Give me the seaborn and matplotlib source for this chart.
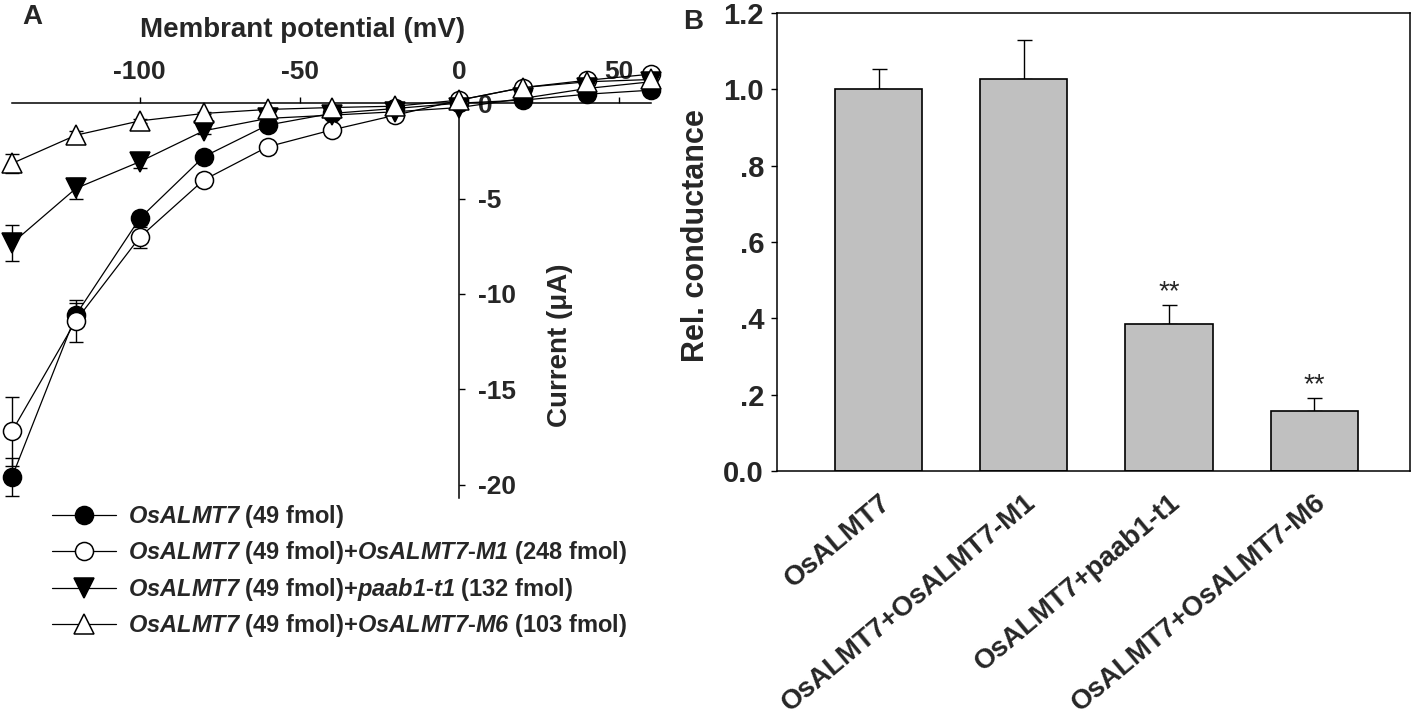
import numpy as np
import pandas as pd
import matplotlib
matplotlib.use("Agg")
import matplotlib.pyplot as plt
from matplotlib.lines import Line2D
import seaborn as sns

# ---- panel A: I-V curves ----
voltage = [-140, -120, -100, -80, -60, -40, -20, 0, 20, 40, 60]

cur_wt = [-19.6, -11.1, -6.04, -2.81, -1.15, -0.54, -0.28, 0.0, 0.16, 0.47, 0.68]
err_wt = [1.0, 0.6, 0.35, 0.25, 0.15, 0.1, 0.05, 0.05, 0.05, 0.05, 0.05]

cur_m1 = [-17.2, -11.4, -7.03, -4.03, -2.29, -1.41, -0.63, 0.16, 0.82, 1.2, 1.52]
err_m1 = [1.8, 1.1, 0.55, 0.3, 0.2, 0.15, 0.1, 0.05, 0.05, 0.05, 0.05]

cur_paab = [-7.35, -4.47, -3.07, -1.45, -0.8, -0.63, -0.45, -0.23, 0.25, 0.77, 1.12]
err_paab = [0.95, 0.55, 0.35, 0.15, 0.1, 0.1, 0.05, 0.05, 0.05, 0.05, 0.05]

cur_m6 = [-3.16, -1.68, -0.93, -0.54, -0.33, -0.23, -0.16, 0.16, 0.82, 1.12, 1.24]
err_m6 = [0.5, 0.2, 0.1, 0.05, 0.05, 0.05, 0.05, 0.05, 0.05, 0.05, 0.05]

legend_labels = [
    r"$\mathit{OsALMT7}$ (49 fmol)",
    r"$\mathit{OsALMT7}$ (49 fmol)+$\mathit{OsALMT7}$-$\mathit{M1}$ (248 fmol)",
    r"$\mathit{OsALMT7}$ (49 fmol)+$\mathit{paab1}$-$\mathit{t1}$ (132 fmol)",
    r"$\mathit{OsALMT7}$ (49 fmol)+$\mathit{OsALMT7}$-$\mathit{M6}$ (103 fmol)",
]

# ---- panel B: relative conductance ----
groups = ["OsALMT7", "OsALMT7+OsALMT7-M1", "OsALMT7+paab1-t1", "OsALMT7+OsALMT7-M6"]
rel_cond = [1.0, 1.028, 0.385, 0.157]
rel_err = [0.054, 0.102, 0.05, 0.035]
signif = ["", "", "**", "**"]
b_ticks = [0.0, 0.2, 0.4, 0.6, 0.8, 1.0, 1.2]
b_ticklabels = ["0.0", ".2", ".4", ".6", ".8", "1.0", "1.2"]

sns.set_style("ticks")
plt.rcParams["font.family"] = ["Liberation Sans", "DejaVu Sans"]
plt.rcParams["font.weight"] = "bold"
plt.rcParams["axes.unicode_minus"] = False
plt.rcParams["mathtext.fontset"] = "custom"
plt.rcParams["mathtext.it"] = "Liberation Sans:bold:italic"
plt.rcParams["mathtext.rm"] = "Liberation Sans:bold:italic"
plt.rcParams["mathtext.bf"] = "Liberation Sans:bold:italic"

W, H = 1417, 714
fig = plt.figure(figsize=(W / 100, H / 100), dpi=100)

# ================= Panel A =================
axA = fig.add_axes([12 / W, 1 - 498 / H, 639 / W, 433 / H])

series = [
    (cur_wt, err_wt, "o", "black", 13),
    (cur_m1, err_m1, "o", "white", 13),
    (cur_paab, err_paab, "v", "black", 14),
    (cur_m6, err_m6, "^", "white", 14),
]
handles = []
for cur, err, mk, fc, ms in series:
    df = pd.DataFrame({"V": voltage, "I": cur})
    axA.errorbar(voltage, cur, yerr=err, fmt="none", ecolor="black",
                 elinewidth=1.0, capsize=4.7, capthick=1.0, clip_on=False, zorder=2)
    sns.lineplot(data=df, x="V", y="I", ax=axA, color="black", lw=0.9,
                 marker=mk, markersize=ms, markerfacecolor=fc,
                 markeredgecolor="black", markeredgewidth=1.1,
                 errorbar=None, clip_on=False, zorder=3)
    handles.append(Line2D([], [], color="black", lw=0.9, marker=mk, markersize=ms,
                          markerfacecolor=fc, markeredgecolor="black",
                          markeredgewidth=1.1))

axA.set_xlim(-140, 60)
axA.set_ylim(-20.7, 2.0)
axA.spines["bottom"].set_visible(False)
axA.spines["left"].set_visible(False)
axA.spines["top"].set_position(("data", 0))
axA.spines["right"].set_position(("data", 0))
axA.spines["top"].set_bounds(-140, 60)
axA.spines["right"].set_bounds(-20.7, 0)
for s in ("top", "right"):
    axA.spines[s].set_linewidth(1.1)
    axA.spines[s].set_color("black")
axA.xaxis.set_ticks_position("top")
axA.yaxis.set_ticks_position("right")
axA.set_xticks([-100, -50, 0, 50])
axA.set_yticks([0, -5, -10, -15, -20])
axA.tick_params(axis="both", direction="out", length=4.5, width=1.0,
                labelsize=19, pad=9, color="black")

axA.set_xlabel("Membrant potential (mV)", fontsize=20, fontweight="bold")
axA.xaxis.set_label_position("top")
axA.xaxis.set_label_coords(0.455, 1.081)
axA.xaxis.label.set_va("center")
axA.set_ylabel("Current (μA)", fontsize=20, fontweight="bold")
axA.yaxis.set_label_position("right")
axA.yaxis.set_label_coords(0.857, 0.353)
axA.yaxis.label.set_va("center")
axA.yaxis.label.set_ha("center")

fig.legend(handles, legend_labels, loc="upper left",
           bbox_to_anchor=(52 / W, 1 - 503 / H), frameon=False,
           prop=dict(size=17, weight="bold"), handlelength=2.7,
           handletextpad=0.5, labelspacing=0.4, borderpad=0, borderaxespad=0)

# ================= Panel B =================
axB = fig.add_axes([777 / W, 1 - 471 / H, 633 / W, 458 / H])
sns.barplot(x=groups, y=rel_cond, ax=axB, color="#c0c0c0", saturation=1,
            edgecolor="black", linewidth=1.2, width=0.6, errorbar=None, zorder=2)
axB.errorbar(range(len(groups)), rel_cond, yerr=[np.zeros(len(groups)), rel_err],
             fmt="none", ecolor="black", elinewidth=1.0, capsize=5.4, capthick=1.0,
             zorder=1)
for i, (v, e, s) in enumerate(zip(rel_cond, rel_err, signif)):
    if s:
        axB.text(i, v + e + 0.034, s, ha="center", va="center",
                 fontsize=20, fontweight="normal")

axB.set_xlim(-0.70, 3.66)
axB.set_ylim(0, 1.2)
axB.set_yticks(b_ticks)
axB.set_yticklabels(b_ticklabels)
axB.tick_params(axis="y", direction="out", length=4.3, width=1.0,
                labelsize=21, pad=5, color="black")
axB.tick_params(axis="x", length=0, labelsize=20, pad=13)
for lab in axB.get_xticklabels():
    lab.set_rotation(40)
    lab.set_ha("right")
    lab.set_va("top")
    lab.set_rotation_mode("anchor")
    lab.set_fontweight("bold")
for s in axB.spines.values():
    s.set_linewidth(1.1)
    s.set_color("black")
axB.set_xlabel("")
axB.set_ylabel("Rel. conductance", fontsize=22, fontweight="bold")
axB.yaxis.set_label_coords(-0.128, 0.513)
axB.yaxis.label.set_va("center")

fig.text(22 / W, 1 - 4 / H, "A", fontsize=20, fontweight="bold", va="top")
fig.text(683 / W, 1 - 9 / H, "B", fontsize=20, fontweight="bold", va="top")

fig.savefig("out.png", dpi=100)
